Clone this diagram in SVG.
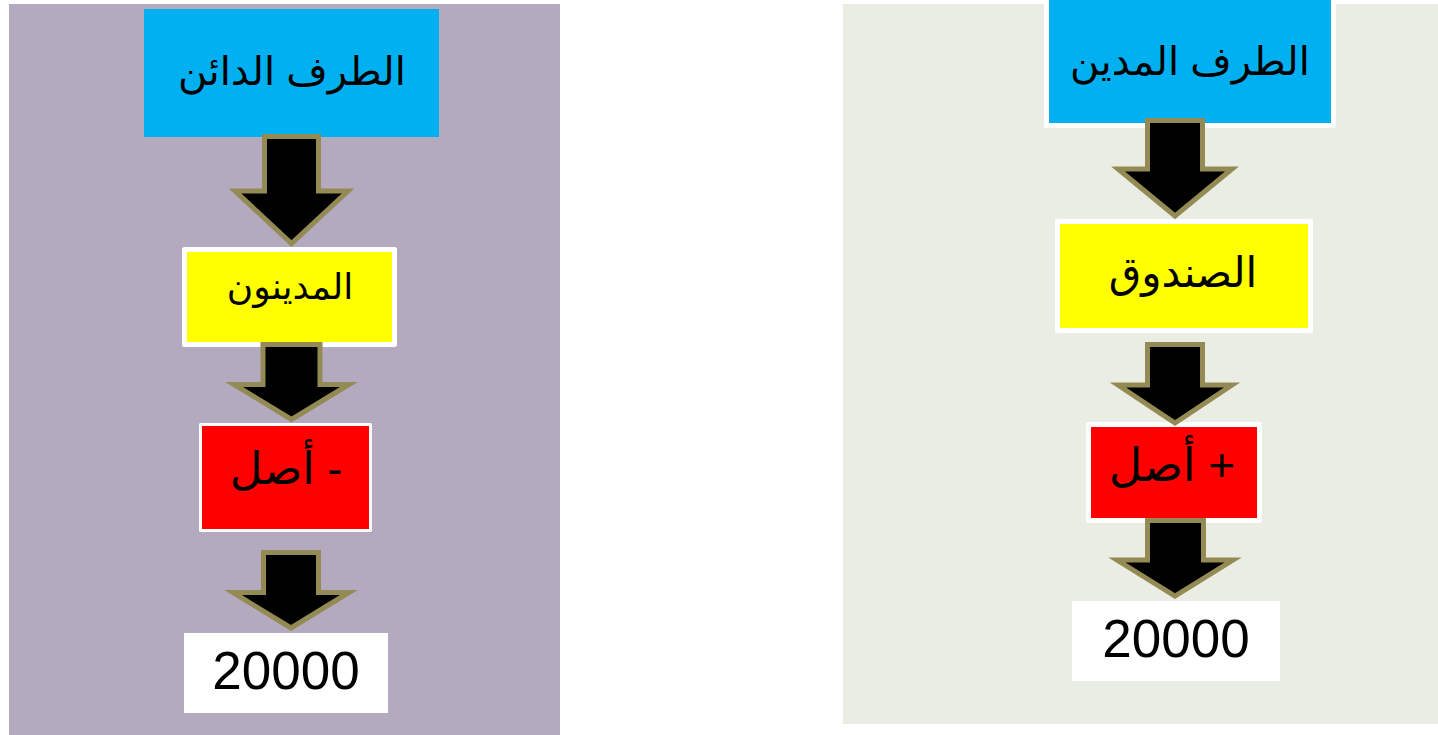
<svg xmlns="http://www.w3.org/2000/svg" width="1438" height="735" viewBox="0 0 1438 735">
<style>
.box{stroke:#FFFFFF;stroke-linejoin:round}
.ar{font-family:"Liberation Sans","DejaVu Sans",sans-serif;fill:#000;text-anchor:middle}
.num{font-family:"Liberation Sans",Arial,sans-serif;font-size:53px;fill:#000;text-anchor:middle}
.arrow{fill:#000;stroke:#948A54;stroke-width:5;stroke-linejoin:miter}
</style>
<rect x="0" y="0" width="1438" height="735" fill="#FFFFFF"/>
<rect id="panel-left" x="9" y="4" width="551" height="731" fill="#B4AAC0"/>
<rect id="panel-right" x="843" y="4" width="595" height="720" fill="#EAEDE4"/>

<g id="creditor">
<rect x="144" y="9" width="295" height="128" fill="#00B0F0"/>
<text class="ar" x="292" y="85" font-size="40" direction="rtl">الطرف الدائن</text>
</g>
<g id="debtors">
<rect class="box" x="184.5" y="249.5" width="210" height="95" fill="#FFFF00" stroke-width="5"/>
<text class="ar" x="290" y="299" font-size="36" direction="rtl">المدينون</text>
</g>
<g id="asset-minus">
<rect class="box" x="200.5" y="424.5" width="170" height="106" fill="#FF0000" stroke-width="3"/>
<text class="ar" x="286" y="484" font-size="45" direction="rtl">- أصل</text>
</g>
<g id="amount-left">
<rect x="184" y="633" width="204" height="80" fill="#FFFFFF"/>
<text class="num" x="286" y="689">20000</text>
</g>

<g id="debtor">
<rect class="box" x="1046.5" y="-4" width="287" height="129.5" fill="#00B0F0" stroke-width="5"/>
<text class="ar" x="1190" y="75" font-size="40" direction="rtl">الطرف المدين</text>
</g>
<g id="cash">
<rect class="box" x="1057.5" y="221.5" width="253" height="109" fill="#FFFF00" stroke-width="5"/>
<text class="ar" x="1183" y="287" font-size="42" direction="rtl">الصندوق</text>
</g>
<g id="asset-plus">
<rect class="box" x="1088.5" y="424.5" width="171" height="96" fill="#FF0000" stroke-width="5"/>
<text class="ar" x="1172" y="481" font-size="46" direction="rtl">+ أصل</text>
</g>
<g id="amount-right">
<rect x="1072" y="601" width="208" height="80" fill="#FFFFFF"/>
<text class="num" x="1176" y="657">20000</text>
</g>

<g id="connectors">
<polygon class="arrow" points="264.5,136.5 318.5,136.5 318.5,191 348,191 291.5,243.5 235,191 264.5,191"/>
<polygon class="arrow" points="263,344.5 320,344.5 320,384.5 349,384.5 291.5,419.5 234,384.5 263,384.5"/>
<polygon class="arrow" points="263.5,552.5 318.5,552.5 318.5,592.5 349,592.5 291,628 233,592.5 263.5,592.5"/>
<polygon class="arrow" points="1147.5,120.5 1202.5,120.5 1202.5,169 1232,169 1175,216 1118,169 1147.5,169"/>
<polygon class="arrow" points="1147.5,344.5 1202.5,344.5 1202.5,385 1232,385 1175,423 1118,385 1147.5,385"/>
<polygon class="arrow" points="1147.5,520.5 1203.5,520.5 1203.5,560 1233,560 1175,596 1117,560 1147.5,560"/>
</g>
</svg>
